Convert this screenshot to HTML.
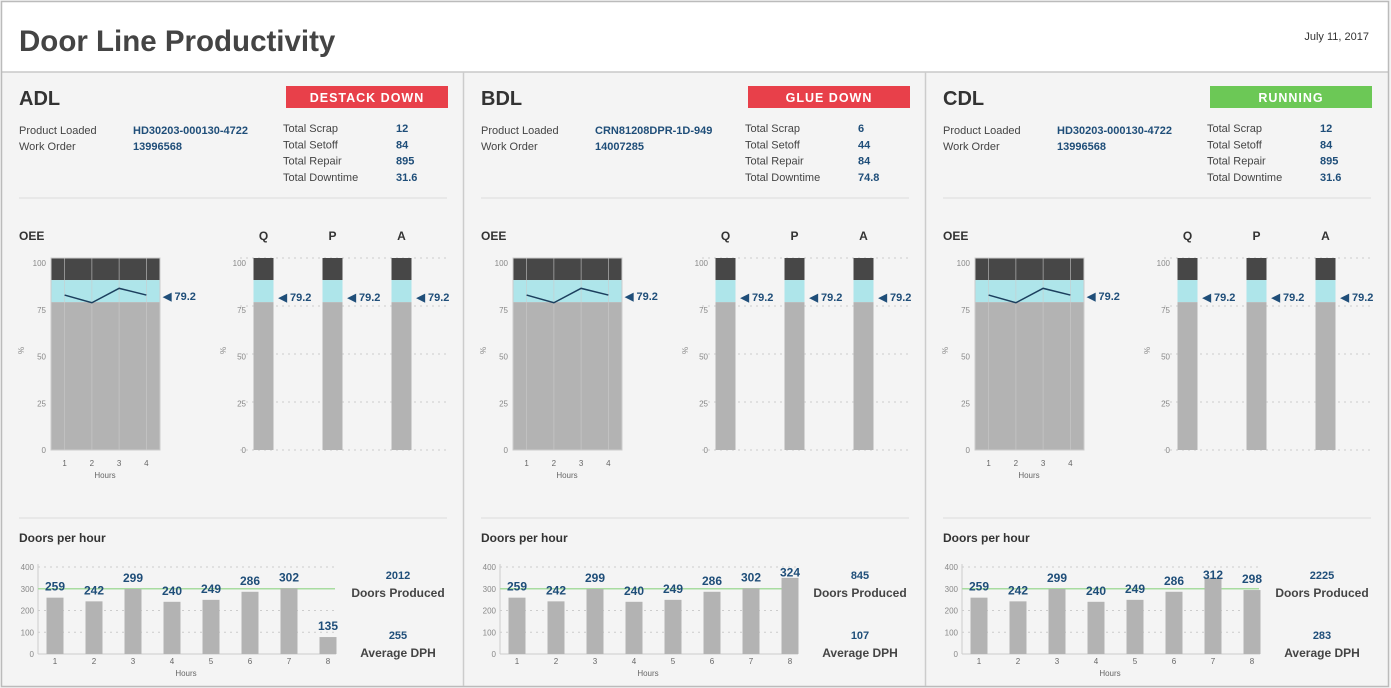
<!DOCTYPE html>
<html><head><meta charset="utf-8">
<style>
body{margin:0;background:#fff;font-family:"Liberation Sans",Arial,sans-serif;}
#root{position:relative;width:1391px;height:688px;overflow:hidden;}
svg text{font-family:"Liberation Sans",Arial,sans-serif;}
</style></head><body>
<div id="root">
<svg id="svg" width="1391" height="688"></svg>
</div>
<script>
const lineNames=["ADL","BDL","CDL"];
const statuses=["DESTACK DOWN","GLUE DOWN","RUNNING"];
const statusColors=["#e8404a","#e8404a","#6cc856"];
const products=["HD30203-000130-4722","CRN81208DPR-1D-949","HD30203-000130-4722"];
const workOrders=["13996568","14007285","13996568"];
const scrap=["12","6","12"],setoff=["84","44","84"],repair=["895","84","895"],downtime=["31.6","74.8","31.6"];
const hours4=[1,2,3,4];
const oeeLine=[80.7,76.7,84.2,80.7];
const oeeBand=[77,88.5];
const oeeValue="79.2";
const qpaLabels=["Q","P","A"];
const qpaValues=["79.2","79.2","79.2"];
const pctTicks=[0,25,50,75,100];
const hours8=[1,2,3,4,5,6,7,8];
const doorsBars=[[259,242,299,240,249,286,302,78],[259,242,299,240,249,286,302,350],[259,242,299,240,249,286,349,294]];
const doorsLabels=[[259,242,299,240,249,286,302,135],[259,242,299,240,249,286,302,324],[259,242,299,240,249,286,312,298]];
const doorsTicks=[0,100,200,300,400];
const target=300;
const produced=["2012","845","2225"];
const avgDph=["255","107","283"];

const NS="http://www.w3.org/2000/svg";
const svg=document.getElementById('svg');
function el(tag,attrs,parent,txt){const e=document.createElementNS(NS,tag);for(const k in attrs)e.setAttribute(k,attrs[k]);if(txt!==undefined)e.textContent=txt;(parent||svg).appendChild(e);return e;}

let r=el('rect',{x:0,y:0,width:1391,height:688,fill:'#f4f4f4'});


r=el('rect',{x:2,y:2,width:1386,height:70,fill:'#fff'});


el('line',{x1:2,y1:72,x2:1388,y2:72,stroke:'#c8c8c8','stroke-width':1.5});
el('rect',{x:1.5,y:1.5,width:1387,height:685,fill:'none',stroke:'#bbb','stroke-width':1.5});
let t=el('text',{x:19,y:51,'font-size':29.5,'font-weight':'bold',fill:'#444'},null,'Door Line Productivity');


t=el('text',{x:1369,y:40,'font-size':11,fill:'#333','text-anchor':'end'},null,'July 11, 2017');


[463.5,925.5].forEach(x=>el('line',{x1:x,y1:72,x2:x,y2:686,stroke:'#ccc','stroke-width':1.5}));

const offs=[0,462,924];
for(let p=0;p<3;p++){
  const g=el('g',{transform:`translate(${offs[p]},0)`});
  
  
  let e=el('text',{x:19,y:105,'font-size':20,'font-weight':'bold',fill:'#333'},g,lineNames[p]);
  
  
  const sg=el('g',{},g);
  
  
  el('rect',{x:286,y:86,width:162,height:22,fill:statusColors[p]},sg);
  el('text',{x:367,y:102,'font-size':12.5,'font-weight':'bold',fill:'#fff','text-anchor':'middle','letter-spacing':'1'},sg,statuses[p]);
  const info=[["Product Loaded",products[p],134],["Work Order",workOrders[p],150]];
  info.forEach(i=>{el('text',{x:19,y:i[2],'font-size':11,fill:'#444'},g,i[0]);
    const v=el('text',{x:133,y:i[2],'font-size':11,'font-weight':'bold',fill:'#1f4e79'},g,i[1]);
    
    });
  const tot=[["Total Scrap",scrap[p]],["Total Setoff",setoff[p]],["Total Repair",repair[p]],["Total Downtime",downtime[p]]];
  tot.forEach((i,k)=>{const y=132+k*16.3;el('text',{x:283,y:y,'font-size':11,fill:'#444'},g,i[0]);
    const v=el('text',{x:396,y:y,'font-size':11,'font-weight':'bold',fill:'#1f4e79'},g,i[1]);
    
    });
  el('line',{x1:19,y1:198,x2:447,y2:198,stroke:'#ddd'},g);
  el('line',{x1:19,y1:518,x2:447,y2:518,stroke:'#ddd'},g);

  const yP=v=>450-v*1.92;
  const yL=v=>453-v*1.87;
  el('text',{x:19,y:240,'font-size':12,'font-weight':'bold',fill:'#333'},g,'OEE');
  const og=el('g',{},g);
  
  
  const x0=51,x1=160,bw=(x1-x0)/hours4.length;
  const xH=i=>x0+bw*(i+0.5);
  el('rect',{x:x0,y:yP(100),width:x1-x0,height:yP(oeeBand[1])-yP(100),fill:'#474747'},og);
  el('rect',{x:x0,y:yP(oeeBand[1]),width:x1-x0,height:yP(oeeBand[0])-yP(oeeBand[1]),fill:'#aee5ea'},og);
  el('rect',{x:x0,y:yP(oeeBand[0]),width:x1-x0,height:yP(0)-yP(oeeBand[0]),fill:'#b3b3b3'},og);
  el('rect',{x:x0,y:yP(100),width:x1-x0,height:yP(0)-yP(100),fill:'none',stroke:'#ccc'},og);
  hours4.forEach((h,i)=>{el('line',{x1:xH(i),y1:yP(100),x2:xH(i),y2:yP(0),stroke:'#ccc','stroke-width':0.7,opacity:0.8},og);
    el('text',{x:xH(i),y:466,'font-size':8,fill:'#666','text-anchor':'middle'},og,h);});
  el('text',{x:105,y:478,'font-size':8,fill:'#666','text-anchor':'middle'},og,'Hours');
  pctTicks.forEach(v=>el('text',{x:46,y:yL(v),'font-size':8,fill:'#888','text-anchor':'end'},og,v));
  el('text',{x:0,y:0,'font-size':8,fill:'#888',transform:'translate(24,354) rotate(-90)'},og,'%');
  const pl=el('polyline',{points:oeeLine.map((v,i)=>xH(i)+','+yP(v)).join(' '),fill:'none',stroke:'#1c3f5e','stroke-width':1.5},og);
  
  
  el('text',{x:163,y:300,'font-size':11,'font-weight':'bold',fill:'#1f4e79'},og,'◀ '+oeeValue);

  const qg=el('g',{},g);
  
  
  pctTicks.forEach(v=>{el('line',{x1:240,y1:yP(v),x2:449,y2:yP(v),stroke:'#ccc','stroke-dasharray':'2,4'},qg);
    el('text',{x:246,y:yL(v),'font-size':8,fill:'#888','text-anchor':'end'},qg,v);});
  el('text',{x:0,y:0,'font-size':8,fill:'#888',transform:'translate(226,354) rotate(-90)'},qg,'%');
  qpaLabels.forEach((l,i)=>{const bx=253.5+i*69;
    el('text',{x:bx+10,y:240,'font-size':12,'font-weight':'bold',fill:'#333','text-anchor':'middle'},qg,l);
    const b=el('g',{},qg);
    
    
    el('rect',{x:bx,y:yP(100),width:20,height:yP(oeeBand[1])-yP(100),fill:'#474747'},b);
    el('rect',{x:bx,y:yP(oeeBand[1]),width:20,height:yP(oeeBand[0])-yP(oeeBand[1]),fill:'#aee5ea'},b);
    el('rect',{x:bx,y:yP(oeeBand[0]),width:20,height:yP(0)-yP(oeeBand[0]),fill:'#b3b3b3'},b);
    el('text',{x:bx+25,y:301,'font-size':11,'font-weight':'bold',fill:'#1f4e79'},qg,'◀ '+qpaValues[i]);});

  el('text',{x:19,y:542,'font-size':12,'font-weight':'bold',fill:'#333'},g,'Doors per hour');
  const dg=el('g',{},g);
  
  
  const yD=v=>654-v*0.2175;
  const dx0=38;
  doorsTicks.forEach(v=>{if(v>0)el('line',{x1:dx0,y1:yD(v),x2:335,y2:yD(v),stroke:'#ccc','stroke-dasharray':'2,4'},dg);
    el('text',{x:34,y:yD(v)+3,'font-size':8,fill:'#888','text-anchor':'end'},dg,v);});
  el('line',{x1:dx0,y1:yD(400)-3,x2:dx0,y2:yD(0),stroke:'#ccc'},dg);
  el('line',{x1:dx0,y1:yD(0),x2:336,y2:yD(0),stroke:'#ccc'},dg);
  const tl=el('line',{x1:dx0,y1:yD(target),x2:335,y2:yD(target),stroke:'#a8dca0','stroke-width':1.5},dg);
  
  
  hours8.forEach((h,i)=>{const cx=dx0+17+i*39;
    const b=el('rect',{x:cx-8.5,y:yD(doorsBars[p][i]),width:17,height:yD(0)-yD(doorsBars[p][i]),fill:'#b3b3b3'},dg);
    
    
    el('text',{x:cx,y:yD(Math.min(doorsBars[p][i],doorsLabels[p][i]))-7,'font-size':12,'font-weight':'bold',fill:'#1f4e79','text-anchor':'middle'},dg,doorsLabels[p][i]);
    el('text',{x:cx,y:664,'font-size':8,fill:'#666','text-anchor':'middle'},dg,h);});
  el('text',{x:186,y:676,'font-size':8,fill:'#666','text-anchor':'middle'},dg,'Hours');
  e=el('text',{x:398,y:579,'font-size':11,'font-weight':'bold',fill:'#1f4e79','text-anchor':'middle'},g,produced[p]);
  
  
  el('text',{x:398,y:597,'font-size':12,'font-weight':'bold',fill:'#444','text-anchor':'middle'},g,'Doors Produced');
  e=el('text',{x:398,y:639,'font-size':11,'font-weight':'bold',fill:'#1f4e79','text-anchor':'middle'},g,avgDph[p]);
  
  
  el('text',{x:398,y:657,'font-size':12,'font-weight':'bold',fill:'#444','text-anchor':'middle'},g,'Average DPH');
}
</script>
</body></html>
